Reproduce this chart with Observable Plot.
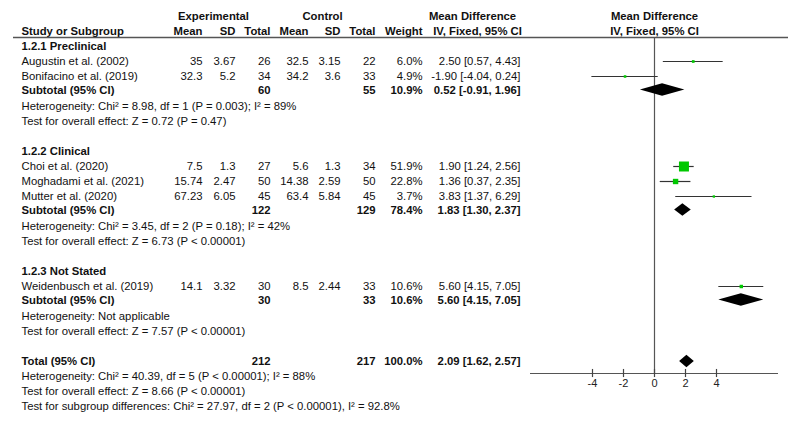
<!DOCTYPE html>
<html>
<head>
<meta charset="utf-8">
<script src="https://cdn.jsdelivr.net/npm/d3@7"></script>
<script src="https://cdn.jsdelivr.net/npm/@observablehq/plot@0.6"></script>
<style>
  html, body { margin: 0; padding: 0; background: #fff; }
</style>
</head>
<body>
<div id="chart"></div>
<script>
// ---- data ----
const groupNames = ["1.2.1 Preclinical", "1.2.2 Clinical", "1.2.3 Not Stated"];
const studyNames = ["Augustin et al. (2002)", "Bonifacino et al. (2019)", "Choi et al. (2020)", "Moghadami et al. (2021)", "Mutter et al. (2020)", "Weidenbusch et al. (2019)"];
const studyGroup = [0, 0, 1, 1, 1, 2];
const expMean = [35, 32.3, 7.5, 15.74, 67.23, 14.1];
const expSD = [3.67, 5.2, 1.3, 2.47, 6.05, 3.32];
const expN = [26, 34, 27, 50, 45, 30];
const ctlMean = [32.5, 34.2, 5.6, 14.38, 63.4, 8.5];
const ctlSD = [3.15, 3.6, 1.3, 2.59, 5.84, 2.44];
const ctlN = [22, 33, 34, 50, 45, 33];
const studyWeight = [6.0, 4.9, 51.9, 22.8, 3.7, 10.6];
const studyMD = [2.50, -1.90, 1.90, 1.36, 3.83, 5.60];
const studyLo = [0.57, -4.04, 1.24, 0.37, 1.37, 4.15];
const studyHi = [4.43, 0.24, 2.56, 2.35, 6.29, 7.05];

const subExpN = [60, 122, 30];
const subCtlN = [55, 129, 33];
const subWeight = [10.9, 78.4, 10.6];
const subMD = [0.52, 1.83, 5.60];
const subLo = [-0.91, 1.30, 4.15];
const subHi = [1.96, 2.37, 7.05];
const subHet = [
  "Heterogeneity: Chi² = 8.98, df = 1 (P = 0.003); I² = 89%",
  "Heterogeneity: Chi² = 3.45, df = 2 (P = 0.18); I² = 42%",
  "Heterogeneity: Not applicable"
];
const subTest = [
  "Test for overall effect: Z = 0.72 (P = 0.47)",
  "Test for overall effect: Z = 6.73 (P < 0.00001)",
  "Test for overall effect: Z = 7.57 (P < 0.00001)"
];

const totalLabel = "Total (95% CI)";
const subtotalLabel = "Subtotal (95% CI)";
const totalExpN = 212, totalCtlN = 217, totalWeight = 100.0;
const totalMD = 2.09, totalLo = 1.62, totalHi = 2.57;
const footerLines = [
  "Heterogeneity: Chi² = 40.39, df = 5 (P < 0.00001); I² = 88%",
  "Test for overall effect: Z = 8.66 (P < 0.00001)",
  "Test for subgroup differences: Chi² = 27.97, df = 2 (P < 0.00001), I² = 92.8%"
];

const headerTop = ["Experimental", "Control", "Mean Difference", "Mean Difference"];
const headerCols = ["Study or Subgroup", "Mean", "SD", "Total", "Mean", "SD", "Total", "Weight", "IV, Fixed, 95% CI", "IV, Fixed, 95% CI"];
const axisTicks = [-4, -2, 0, 2, 4];

// ---- layout (row index = vertical slot) ----
const studies = [], subtotals = [], textRows = [];
let row = 2;
groupNames.forEach((g, gi) => {
  textRows.push({i: row++, text: g, bold: true});
  studyNames.forEach((n, k) => {
    if (studyGroup[k] !== gi) return;
    studies.push({i: row++, name: n, em: expMean[k], es: expSD[k], en: expN[k], cm: ctlMean[k], cs: ctlSD[k], cn: ctlN[k],
      w: studyWeight[k], md: studyMD[k], lo: studyLo[k], hi: studyHi[k]});
  });
  subtotals.push({i: row++ - 0.1, name: subtotalLabel, en: subExpN[gi], cn: subCtlN[gi], w: subWeight[gi], md: subMD[gi], lo: subLo[gi], hi: subHi[gi]});
  textRows.push({i: row++, text: subHet[gi], bold: false});
  textRows.push({i: row++, text: subTest[gi], bold: false});
  row++;
});
subtotals.push({i: row++, name: totalLabel, en: totalExpN, cn: totalCtlN, w: totalWeight, md: totalMD, lo: totalLo, hi: totalHi});
footerLines.forEach(t => textRows.push({i: row++, text: t, bold: false}));

const mL = 13, mR = 12;
const FS = 11.3;
const colX = {name: 21, em: 202, es: 235, en: 270, cm: 308, cs: 340, cn: 375, w: 422, ci: 520};
const headerTopX = [213, 322, 472, 654];
const headerTopAnchor = ["middle", "middle", "middle", "middle"];
const headerColX = [21, 202, 235, 270, 308, 340, 375, 422, 477, 654];
const headerColAnchor = ["start", "end", "end", "end", "end", "end", "end", "end", "middle", "middle"];

const fmtCI = d => `${d.md.toFixed(2)} [${d.lo.toFixed(2)}, ${d.hi.toFixed(2)}]`;
const fmtW = d => `${d.w.toFixed(1)}%`;

function col(data, text, x, anchor, bold) {
  return Plot.text(data, {
    y: "i", text, frameAnchor: "left", dx: x - mL, textAnchor: anchor,
    fontSize: FS, fill: "#111", fontWeight: bold ? "bold" : "normal"
  });
}

const diamondPts = subtotals.flatMap((d, k) => [
  {id: k, y: d.i - 0.42, x1: d.md, x2: d.md},
  {id: k, y: d.i, x1: d.lo, x2: d.hi},
  {id: k, y: d.i + 0.42, x1: d.md, x2: d.md}
]);

const hTop = headerTop.map((t, k) => ({i: 0, t, x: headerTopX[k], a: headerTopAnchor[k]}));
const hCols = headerCols.map((t, k) => ({i: 1, t, x: headerColX[k], a: headerColAnchor[k]}));

const axisY = 23.8;

const marks = [
  // header
  ...hTop.map(h => col([h], "t", h.x, h.a, true)),
  ...hCols.map(h => col([h], "t", h.x, h.a, true)),
  Plot.ruleY([1.4], {stroke: "#555", strokeWidth: 1.3}),
  // plain text rows
  col(textRows.filter(d => d.bold), "text", colX.name, "start", true),
  col(textRows.filter(d => !d.bold), "text", colX.name, "start", false),
  // study rows
  col(studies, "name", colX.name, "start", false),
  col(studies, d => String(d.em), colX.em, "end", false),
  col(studies, d => String(d.es), colX.es, "end", false),
  col(studies, d => String(d.en), colX.en, "end", false),
  col(studies, d => String(d.cm), colX.cm, "end", false),
  col(studies, d => String(d.cs), colX.cs, "end", false),
  col(studies, d => String(d.cn), colX.cn, "end", false),
  col(studies, fmtW, colX.w, "end", false),
  col(studies, fmtCI, colX.ci, "end", false),
  // subtotal rows
  col(subtotals, "name", colX.name, "start", true),
  col(subtotals, d => String(d.en), colX.en, "end", true),
  col(subtotals, d => String(d.cn), colX.cn, "end", true),
  col(subtotals, fmtW, colX.w, "end", true),
  col(subtotals, fmtCI, colX.ci, "end", true),
  // forest plot
  Plot.ruleX([0], {y1: 1.4, y2: axisY, stroke: "#555", strokeWidth: 1.2}),
  Plot.ruleY(studies, {y: "i", x1: "lo", x2: "hi", stroke: "#333", strokeWidth: 1.2}),
  Plot.dot(studies, {x: "md", y: "i", r: "w", symbol: "square", fill: "#00c800", stroke: null}),
  Plot.areaX(diamondPts, {y: "y", x1: "x1", x2: "x2", z: "id", fill: "black", curve: "linear"}),
  // axis
  Plot.ruleY([axisY], {x1: -8, x2: 8, stroke: "#555", strokeWidth: 1.2}),
  Plot.ruleX(axisTicks, {x: d => d, y1: axisY - 0.27, y2: axisY + 0.27, stroke: "#444", strokeWidth: 1.2}),
  Plot.text(axisTicks, {x: d => d, y: axisY + 0.67, text: d => String(d), fontSize: 11, fill: "#222"})
];

const chart = Plot.plot({
  width: 800,
  height: 422,
  marginLeft: mL,
  marginRight: mR,
  marginTop: 0,
  marginBottom: 0,
  style: {fontFamily: "'Liberation Sans', Arial, sans-serif", fontSize: "11px", background: "#fff"},
  x: {domain: [-8, 8], range: [530, 778], axis: null},
  y: {domain: [0, 26], range: [16, 406], axis: null},
  r: {type: "linear", domain: [0, 51.9], range: [1, 5.64]},
  marks
});
document.getElementById("chart").append(chart);
</script>
</body>
</html>
